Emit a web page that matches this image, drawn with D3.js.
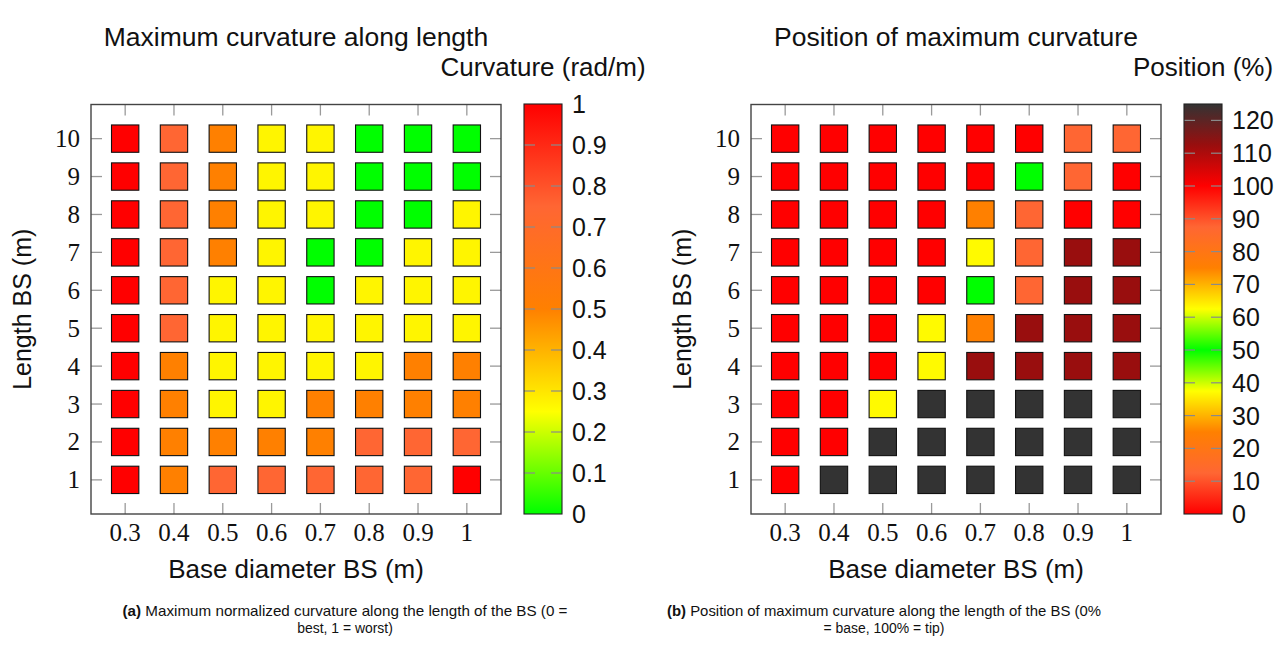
<!DOCTYPE html>
<html>
<head>
<meta charset="utf-8">
<script src="https://cdn.jsdelivr.net/npm/d3@7"></script>
<style>
  html, body { margin: 0; padding: 0; background: #fff; }
  svg { display: block; }
  .sans { font-family: "Liberation Sans", Arial, sans-serif; }
  .serif { font-family: "Liberation Serif", "Times New Roman", serif; }
</style>
</head>
<body>
<svg id="chart" width="1277" height="646"></svg>
<script>
// Axis categories
const diameters = [0.3, 0.4, 0.5, 0.6, 0.7, 0.8, 0.9, 1];
const lengths = [1, 2, 3, 4, 5, 6, 7, 8, 9, 10];

// Maximum normalized curvature, one row per length (1 m .. 10 m), columns follow diameters
const curvature = [
  [1, 0.5, 0.75, 0.75, 0.75, 0.75, 0.75, 1],       // L = 1
  [1, 0.5, 0.5, 0.5, 0.5, 0.75, 0.75, 0.75],        // L = 2
  [1, 0.5, 0.27, 0.27, 0.5, 0.5, 0.5, 0.5],         // L = 3
  [1, 0.5, 0.27, 0.27, 0.27, 0.27, 0.5, 0.5],       // L = 4
  [1, 0.75, 0.27, 0.27, 0.27, 0.27, 0.27, 0.27],    // L = 5
  [1, 0.75, 0.27, 0.27, 0, 0.27, 0.27, 0.27],       // L = 6
  [1, 0.75, 0.5, 0.27, 0, 0, 0.27, 0.27],           // L = 7
  [1, 0.75, 0.5, 0.27, 0.27, 0, 0, 0.27],           // L = 8
  [1, 0.75, 0.5, 0.27, 0.27, 0, 0, 0],              // L = 9
  [1, 0.75, 0.5, 0.27, 0.27, 0, 0, 0]               // L = 10
];

// Position of maximum curvature in % of length, same layout
const position = [
  [100, 125, 125, 125, 125, 125, 125, 125],         // L = 1
  [100, 100, 125, 125, 125, 125, 125, 125],         // L = 2
  [100, 100, 63, 125, 125, 125, 125, 125],          // L = 3
  [100, 100, 100, 63, 112.5, 112.5, 112.5, 112.5],  // L = 4
  [100, 100, 100, 63, 75, 112.5, 112.5, 112.5],     // L = 5
  [100, 100, 100, 100, 50, 87.5, 112.5, 112.5],     // L = 6
  [100, 100, 100, 100, 63, 87.5, 112.5, 112.5],     // L = 7
  [100, 100, 100, 100, 75, 87.5, 100, 100],         // L = 8
  [100, 100, 100, 100, 100, 50, 87.5, 100],         // L = 9
  [100, 100, 100, 100, 100, 100, 87.5, 87.5]        // L = 10
];

// Colorbar ticks
const curvatureTicks = [0, 0.1, 0.2, 0.3, 0.4, 0.5, 0.6, 0.7, 0.8, 0.9, 1];
const positionTicks = [0, 10, 20, 30, 40, 50, 60, 70, 80, 90, 100, 110, 120];

// Colormaps
const curvatureStops = [0, 0.25, 0.5, 0.75, 1];
const curvatureColors = ["#00ff00", "#ffff00", "#ff8000", "#ff6633", "#ff0000"];
const positionStops = [0, 12.5, 25, 37.5, 50, 62.5, 75, 87.5, 100, 112.5, 125];
const positionColors = ["#ff0000", "#ff6633", "#ff8000", "#ffff00", "#00ff00", "#ffff00",
                        "#ff8000", "#ff6633", "#ff0000", "#990e0e", "#333333"];

const svg = d3.select("#chart");

function drawPanel(opts) {
  const { x0, x1, y0, y1, values, stops, colors, domainMax, ticks,
          cbX, title, cbTitle, gradId, yLabelX, fmt } = opts;

  const x = d3.scaleLinear().domain([0.23, 1.07]).range([x0, x1]);
  const y = d3.scaleLinear().domain([0.1, 10.9]).range([y1, y0]);
  const color = d3.scaleLinear().domain(stops).range(colors).interpolate(d3.interpolateRgb).clamp(true);

  const g = svg.append("g");

  // inner tick marks on all four sides
  const tickLen = 11;
  const tickStyle = sel => sel.attr("stroke", "#9a9a9a").attr("stroke-width", 1.3);
  g.append("g").selectAll("line").data(diameters).join("line")
    .attr("x1", d => x(d)).attr("x2", d => x(d)).attr("y1", y1).attr("y2", y1 - tickLen).call(tickStyle);
  g.append("g").selectAll("line").data(diameters).join("line")
    .attr("x1", d => x(d)).attr("x2", d => x(d)).attr("y1", y0).attr("y2", y0 + tickLen).call(tickStyle);
  g.append("g").selectAll("line").data(lengths).join("line")
    .attr("x1", x0).attr("x2", x0 + tickLen).attr("y1", d => y(d)).attr("y2", d => y(d)).call(tickStyle);
  g.append("g").selectAll("line").data(lengths).join("line")
    .attr("x1", x1).attr("x2", x1 - tickLen).attr("y1", d => y(d)).attr("y2", d => y(d)).call(tickStyle);

  // cells
  const side = 0.56 * (x(diameters[1]) - x(diameters[0]));
  const cells = [];
  lengths.forEach((L, i) => diameters.forEach((D, j) => cells.push({ D, L, v: values[i][j] })));
  g.append("g").selectAll("rect").data(cells).join("rect")
    .attr("x", d => x(d.D) - side / 2)
    .attr("y", d => y(d.L) - side / 2)
    .attr("width", side).attr("height", side)
    .attr("fill", d => color(d.v))
    .attr("stroke", "#111").attr("stroke-width", 1.1);

  // frame
  g.append("rect").attr("x", x0).attr("y", y0).attr("width", x1 - x0).attr("height", y1 - y0)
    .attr("fill", "none").attr("stroke", "#444").attr("stroke-width", 1.4);

  // tick labels
  g.append("g").selectAll("text").data(diameters).join("text")
    .attr("class", "serif").attr("x", d => x(d)).attr("y", 541)
    .attr("text-anchor", "middle").attr("font-size", 25).attr("fill", "#111")
    .text(d => d3.format("~g")(d));
  g.append("g").selectAll("text").data(lengths).join("text")
    .attr("class", "serif").attr("x", x0 - 11).attr("y", d => y(d)).attr("dy", "0.34em")
    .attr("text-anchor", "end").attr("font-size", 25).attr("fill", "#111")
    .text(d => d);

  // axis labels
  g.append("text").attr("class", "sans")
    .attr("x", (x0 + x1) / 2).attr("y", 578).attr("text-anchor", "middle")
    .attr("font-size", 26).attr("fill", "#111").text("Base diameter BS (m)");
  g.append("text").attr("class", "sans")
    .attr("transform", `translate(${yLabelX},${(y0 + y1) / 2}) rotate(-90)`)
    .attr("text-anchor", "middle").attr("font-size", 25).attr("fill", "#111").text("Length BS (m)");

  // title
  g.append("text").attr("class", "sans")
    .attr("x", (x0 + x1) / 2).attr("y", 46).attr("text-anchor", "middle")
    .attr("font-size", 26.5).attr("fill", "#111").text(title);

  // colorbar
  const cbW = 38, cbTop = 104, cbBot = 514;
  const cy = d3.scaleLinear().domain([0, domainMax]).range([cbBot, cbTop]);
  const grad = svg.append("defs").append("linearGradient").attr("id", gradId)
    .attr("x1", 0).attr("x2", 0).attr("y1", 1).attr("y2", 0);
  grad.selectAll("stop").data(stops).join("stop")
    .attr("offset", (d) => d / domainMax)
    .attr("stop-color", (d, i) => colors[i]);
  g.append("rect").attr("x", cbX).attr("y", cbTop).attr("width", cbW).attr("height", cbBot - cbTop)
    .attr("fill", `url(#${gradId})`);
  const inner = ticks.filter(t => t > 0 && cy(t) > cbTop + 4);
  g.append("g").selectAll("line").data(inner).join("line")
    .attr("x1", cbX).attr("x2", cbX + tickLen).attr("y1", d => cy(d)).attr("y2", d => cy(d))
    .attr("stroke", "#8a8a8a").attr("stroke-width", 1.2);
  g.append("g").selectAll("line").data(inner).join("line")
    .attr("x1", cbX + cbW).attr("x2", cbX + cbW - tickLen).attr("y1", d => cy(d)).attr("y2", d => cy(d))
    .attr("stroke", "#8a8a8a").attr("stroke-width", 1.2);
  g.append("rect").attr("x", cbX).attr("y", cbTop).attr("width", cbW).attr("height", cbBot - cbTop)
    .attr("fill", "none").attr("stroke", "#222").attr("stroke-width", 1.1);
  g.append("g").selectAll("text").data(ticks).join("text")
    .attr("class", "sans").attr("x", cbX + cbW + 10).attr("y", d => cy(d)).attr("dy", "0.36em")
    .attr("font-size", 25).attr("fill", "#111").text(fmt);
  g.append("text").attr("class", "sans")
    .attr("x", cbX + cbW / 2).attr("y", 76).attr("text-anchor", "middle")
    .attr("font-size", 26).attr("fill", "#111").text(cbTitle);
}

drawPanel({
  x0: 91, x1: 501, y0: 104.5, y1: 514, values: curvature,
  stops: curvatureStops, colors: curvatureColors, domainMax: 1, ticks: curvatureTicks,
  cbX: 524, gradId: "cmapCurv", yLabelX: 31,
  title: "Maximum curvature along length", cbTitle: "Curvature (rad/m)",
  fmt: d => d3.format("~g")(d)
});

drawPanel({
  x0: 751, x1: 1161, y0: 104.5, y1: 514, values: position,
  stops: positionStops, colors: positionColors, domainMax: 125, ticks: positionTicks,
  cbX: 1184, gradId: "cmapPos", yLabelX: 691,
  title: "Position of maximum curvature", cbTitle: "Position (%)",
  fmt: d => d
});

// sub-figure captions
function caption(cx, width1, line1, line2, tag) {
  const t = svg.append("text").attr("class", "sans").attr("x", cx - width1 / 2).attr("y", 616)
    .attr("font-size", 15).attr("fill", "#111")
    .attr("textLength", width1).attr("lengthAdjust", "spacingAndGlyphs");
  t.append("tspan").attr("font-weight", "bold").text(tag);
  t.append("tspan").text(" " + line1);
  svg.append("text").attr("class", "sans").attr("x", cx).attr("y", 633)
    .attr("text-anchor", "middle").attr("font-size", 15).attr("fill", "#111")
    .attr("transform", `translate(${cx},0) scale(0.93,1) translate(${-cx},0)`)
    .text(line2);
}
caption(345, 445, "Maximum normalized curvature along the length of the BS (0 =", "best, 1 = worst)", "(a)");
caption(884, 434, "Position of maximum curvature along the length of the BS (0%", "= base, 100% = tip)", "(b)");
</script>
</body>
</html>
